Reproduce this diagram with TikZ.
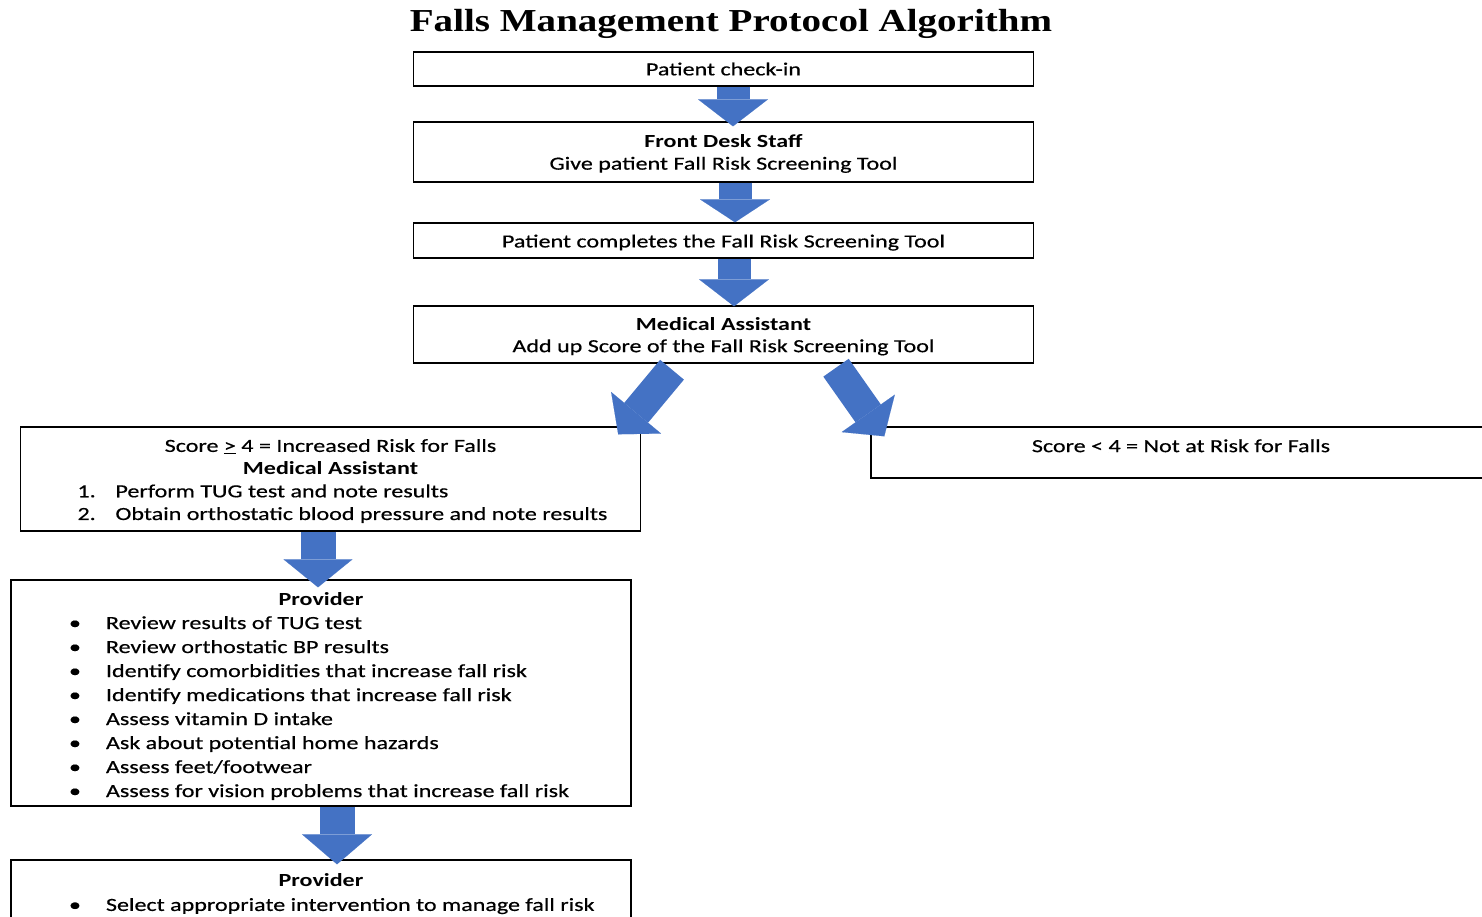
\documentclass[tikz,border=0pt]{standalone}
\usepackage{fontspec}
\setmainfont{Carlito}[FakeStretch=1.3,UprightFeatures={FakeBold=0.5}]
\newfontfamily\titlefont{Liberation Serif}[FakeStretch=1.22]
\usetikzlibrary{arrows.meta,calc}
\definecolor{arrowblue}{HTML}{4472C4}
\newcommand{\bul}[1]{\hspace*{58pt}\makebox[37pt][l]{\textbullet}#1\par}
\newcommand{\numit}[2]{\hspace*{57pt}\makebox[38pt][l]{#1}#2\par}
\newcommand{\lowr}{\rule{0pt}{16.5pt}}
\begin{document}
\begin{tikzpicture}[x=1pt,y=-1pt,
  box/.style={draw=black,line width=1.4pt,minimum width=620pt,inner sep=0pt,
    font=\fontsize{18.5}{22}\selectfont,align=center},
  titlestyle/.style={font=\titlefont\bfseries\fontsize{32}{36}\selectfont,inner sep=0pt},
  blk/.style={draw=arrowblue,line width=33pt,
    -{Triangle[length=27pt,width=70pt,line width=0.1pt]}},
]
\clip (0,0) rectangle (1482,916);
\useasboundingbox (0,0) rectangle (1482,916);

\node[titlestyle] (title) at (731,24) {Falls Management Protocol Algorithm};

\node[box,minimum height=34] (b1) at (723.5,69) {Patient check-in};
\node[box,minimum height=60] (b2) at (723.5,152) {\lowr\textbf{Front Desk Staff}\\Give patient Fall Risk Screening Tool};
\node[box,minimum height=35] (b3) at (723.5,240.5) {\rule{0pt}{17pt}Patient completes the Fall Risk Screening Tool};
\node[box,minimum height=57] (b4) at (723.5,334.5) {\lowr\textbf{Medical Assistant}\\Add up Score of the Fall Risk Screening Tool};

\node[box,minimum height=104] (b5) at (330.5,479) {%
  \begin{minipage}{620pt}\fontsize{18.5}{22.7}\selectfont
  \vspace*{4pt}
  \centering Score \underline{>} 4 = Increased Risk for Falls\par
  \textbf{Medical Assistant}\par
  \raggedright
  \numit{1.}{Perform TUG test and note results}
  \numit{2.}{Obtain orthostatic blood pressure and note results}
  \end{minipage}};

\node[box,minimum height=51] (b6) at (1181,452.5) {Score < 4 = Not at Risk for Falls\\[-15pt]\strut};

\node[box,minimum height=226] (b7) at (321,693) {%
  \begin{minipage}{620pt}\fontsize{18.5}{24}\selectfont
  \vspace*{6pt}
  \centering\textbf{Provider}\par
  \raggedright
  \bul{Review results of TUG test}
  \bul{Review orthostatic BP results}
  \bul{Identify comorbidities that increase fall risk}
  \bul{Identify medications that increase fall risk}
  \bul{Assess vitamin D intake}
  \bul{Ask about potential home hazards}
  \bul{Assess feet/footwear}
  \bul{Assess for vision problems that increase fall risk}
  \end{minipage}};

\node[box,minimum height=62] (b8) at (321,891) {%
  \begin{minipage}{620pt}\fontsize{18.5}{24}\selectfont
  \vspace*{6pt}
  \centering\textbf{Provider}\par
  \raggedright
  \bul{Select appropriate intervention to manage fall risk}
  \end{minipage}};

% block arrows
\draw[blk] ($(b1.south)+(9.5,0)$) -- ($(b2.north)+(9.5,5)$);
\draw[blk,-{Triangle[length=23pt,width=70pt,line width=0.1pt]}] ($(b2.south)+(11.5,0)$) -- ($(b3.north)+(11.5,0)$);
\draw[blk] ($(b3.south)+(10.5,0)$) -- ($(b4.north)+(10.5,1)$);
\draw[blk,line width=31pt,-{Triangle[length=28pt,width=65pt,line width=0.1pt]}] ($(b4.south)+(-51.5,6)$) -- ($(b5.north east)+(-23,8)$);
\draw[blk,line width=31pt,-{Triangle[length=28pt,width=65pt,line width=0.1pt]}] ($(b4.south)+(112.5,4)$) -- ($(b6.north west)+(14,10)$);
\draw[blk,line width=35pt,-{Triangle[length=28pt,width=69pt,line width=0.1pt]}] ($(b5.south)+(-12.5,0)$) -- ($(b7.north)+(-3,8)$);
\draw[blk,line width=35pt,-{Triangle[length=30pt,width=70pt,line width=0.1pt]}] ($(b7.south)+(16,0)$) -- ($(b8.north)+(16,5)$);
\end{tikzpicture}
\end{document}
